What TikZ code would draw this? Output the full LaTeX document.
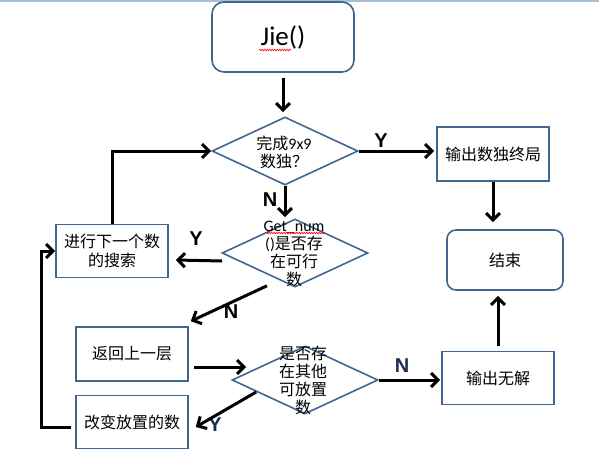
\documentclass[tikz,border=0pt]{standalone}
\usepackage{fontspec}
\setmainfont{Carlito}
\newfontfamily\cjk{Noto Sans CJK SC}
\newfontfamily\ynfont{Liberation Sans}
\usepackage{tikz}
\usetikzlibrary{positioning,
                calc,
                shapes.geometric,
                arrows.meta,
                decorations.pathmorphing}
\definecolor{boxblue}{HTML}{41668F}
\definecolor{topline}{HTML}{A9BCD6}
\definecolor{labelnavy}{HTML}{1C2B52}

\begin{document}
\begin{tikzpicture}[x=1pt,y=-1pt]

\tikzset{
stepbox/.style={
draw=boxblue,
line width=1.6pt,
minimum width=112pt,
minimum height=54pt,
inner sep=0pt,
align=center,
font=\cjk\fontsize{16}{19}\selectfont
},
roundbox/.style={
stepbox,
rounded corners=9pt
},
decision/.style={
draw=boxblue,
line width=1.6pt,
diamond,
minimum width=146pt,
minimum height=68pt,
inner sep=0pt
},
dectext/.style={
align=center,
inner sep=0pt,
font=\cjk\fontsize{16}{18}\selectfont
},
flow/.style={
draw=black,
line width=3pt,
-{Straight Barb[length=7pt,width=14pt]}
},
ynlabel/.style={
font=\ynfont\bfseries\fontsize{20}{20}\selectfont
},
spellmark/.style={
draw=red,
line width=0.6pt,
decorate,
decoration={snake,amplitude=0.8pt,segment length=2.5pt}
}
}

\useasboundingbox (0,0) rectangle (599,458);
\fill[topline] (0,0) rectangle (599,2);

%--------------------------------------------------
% START AND FIRST TEST
%--------------------------------------------------

\node[roundbox,minimum width=142pt,minimum height=70pt,
      rounded corners=12pt,font=\fontsize{27}{30}\selectfont]
(jie) at (283,37) {Jie()};
\draw[spellmark] ($(jie.center)+(-24,13)$) -- ++(32,0);

\node[decision] (dia1) at (285,151) {};
\node[dectext] (dia1txt) at (284,152)
{完成{\rmfamily 9x9}\\数独？};

\node[stepbox] (out) at (493,154) {输出数独终局};

\node[roundbox,minimum width=116pt,minimum height=60pt]
(fin) at (505,260) {结束};

%--------------------------------------------------
% SEARCH
%--------------------------------------------------

\node[decision] (dia2) at (295,253) {};
\node[dectext] (dia2txt) at (294,254)
{{\rmfamily Get\_num}\\{\rmfamily ()}是否存\\在可行\\数};
\draw[spellmark] ($(dia2txt.center)+(-28,-21)$) -- ++(58,0);

\node[stepbox,minimum height=53pt] (next) at (112,251)
{进行下一个数\\的搜索};

%--------------------------------------------------
% BACKTRACK
%--------------------------------------------------

\node[stepbox] (back) at (132,354) {返回上一层};

\node[decision] (dia3) at (305,380) {};
\node[dectext] (dia3txt) at (303,380)
{是否存\\在其他\\可放置\\数};

\node[stepbox,minimum height=53pt] (change) at (132,422)
{改变放置的数};

\node[stepbox,minimum height=53pt] (nosol) at (498,378)
{输出无解};

%--------------------------------------------------
% LABELS
%--------------------------------------------------

\node[ynlabel] (y1) at (381,141) {Y};
\node[ynlabel] (n1) at (270,200) {N};
\node[ynlabel] (y2) at (196,239) {Y};
\node[ynlabel] (n2) at (231,312) {N};
\node[ynlabel,text=labelnavy] (n3) at (402,366) {N};
\node[ynlabel,text=labelnavy] (y3) at (215,425) {Y};

%--------------------------------------------------
% CONNECTORS
%--------------------------------------------------

\draw[flow,shorten <=5pt,shorten >=4pt]
(jie.south) -- (jie.south |- dia1.north);
\draw[flow,shorten >=2pt] (dia1.east) -- (dia1.east -| out.west);
\draw[flow,shorten >=7pt] (out.south) -- (out.south |- fin.north);
\draw[flow,shorten >=1pt] (dia1.south) -- (dia1.south |- dia2.north);

\draw[flow] ($(dia2.west)+(1,8)$) -- ($(next.east)+(7,9)$);
\draw[flow] ($(dia2.south)+(-28,-2)$) -- ($(back.north east)+(2,-5)$);
\draw[flow] (next.north) |- (dia1.west);

\draw[flow] ($(back.east)+(5,13)$) -- ($(dia3.west)+(15,-13)$);
\draw[flow,shorten >=1pt] (dia3.east) -- (dia3.east -| nosol.west);
\draw[flow,shorten <=5pt,shorten >=5pt]
(nosol.north) -- (nosol.north |- fin.south);
\draw[flow] ($(dia3.west)+(25,12)$) -- ($(change.east)+(7,5)$);
\draw[flow] ($(change.west)+(-4,5)$) -- ++(-30,0) |- (next.west);

\end{tikzpicture}
\end{document}
